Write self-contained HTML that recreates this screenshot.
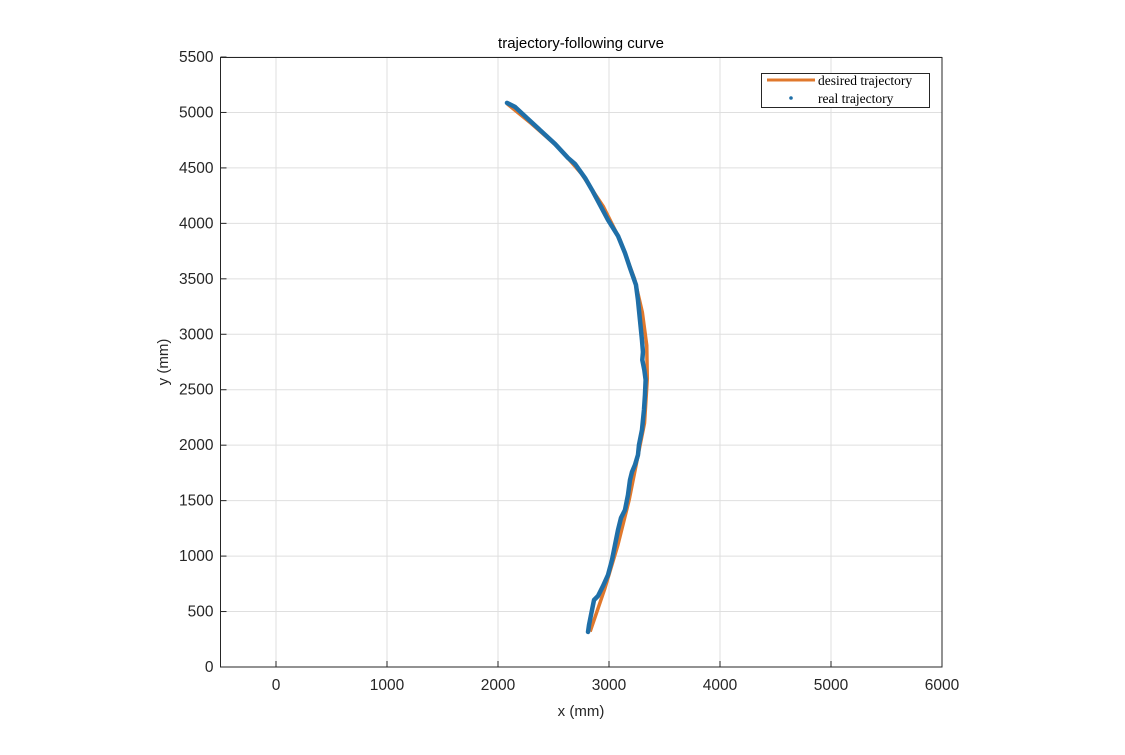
<!DOCTYPE html>
<html><head><meta charset="utf-8"><style>
body{margin:0;background:#fff;}
svg text{font-family:"Liberation Sans",Arial,sans-serif;}
</style></head><body>
<svg id="chart" width="1125" height="750" xmlns="http://www.w3.org/2000/svg">
<rect width="1125" height="750" fill="#fff"/>
<g id="grid"></g>
<g id="series"></g>
<rect x="220.5" y="57.5" width="721.5" height="609.5" fill="none" stroke="#262626" stroke-width="1"/>
<g id="ticks"></g>
<text x="581" y="48" text-anchor="middle" font-size="15" fill="#000">trajectory-following curve</text>
<text x="581" y="716" text-anchor="middle" font-size="15" fill="#262626">x (mm)</text>
<text transform="translate(168,362) rotate(-90)" text-anchor="middle" font-size="15" fill="#262626">y (mm)</text>
<g>
<rect x="761.5" y="73.5" width="168" height="34" fill="#fff" stroke="#262626" stroke-width="1"/>
<line x1="767" y1="80" x2="815" y2="80" stroke="#E0782C" stroke-width="3"/>
<text x="818" y="85" font-size="13.5" style="font-family:'Liberation Serif',serif">desired trajectory</text>
<circle cx="791" cy="98" r="1.8" fill="#1F6FA8"/>
<text x="818" y="103" font-size="13.5" style="font-family:'Liberation Serif',serif">real trajectory</text>
</g>
</svg>
<script>
const xTicks=[0,1000,2000,3000,4000,5000,6000];
const yTicks=[0,500,1000,1500,2000,2500,3000,3500,4000,4500,5000,5500];
const desiredX=[2080,2300,2550,2750,2950,3100,3230,3300,3340,3345,3320,3260,3180,3080,2960,2830];
const desiredY=[5080,4900,4680,4450,4150,3850,3500,3200,2900,2600,2200,1900,1500,1100,700,320];
const realX=[2081,2153,2261,2378,2514,2631,2694,2784,2847,2919,2991,3081,3144,3189,3243,3261,3279,3297,3306,3300,3318,3330,3324,3315,3297,3270,3261,3234,3207,3189,3171,3144,3108,3081,3054,3027,2991,2946,2901,2865,2847,2820,2811];
const realY=[5086,5050,4950,4842,4716,4590,4536,4410,4301,4166,4031,3887,3733,3598,3445,3309,3129,2949,2841,2769,2679,2589,2453,2318,2137,2002,1912,1822,1758,1686,1551,1416,1344,1235,1100,965,830,730,640,604,514,379,316];
const X0=-500,X1=6000,Y0=0,Y1=5500,L=220.5,R=942,T=57,B=667;
const sx=v=>L+(v-X0)/(X1-X0)*(R-L);
const sy=v=>B-(v-Y0)/(Y1-Y0)*(B-T);
const NS="http://www.w3.org/2000/svg";
const grid=document.getElementById('grid'),ticks=document.getElementById('ticks'),ser=document.getElementById('series');
function mk(t,a,p){const e=document.createElementNS(NS,t);for(const k in a)e.setAttribute(k,a[k]);p.appendChild(e);return e;}
xTicks.forEach(v=>{const x=sx(v);
 const g=mk('line',{x1:x,x2:x,y1:T,y2:B,stroke:'#dfdfdf','stroke-width':1},grid);
 
 
 const t=mk('text',{x:x,y:B+23,'text-anchor':'middle','font-size':15.5,fill:'#262626'},ticks);t.textContent=v;
 
 
 mk('line',{x1:x,x2:x,y1:B,y2:B-6,stroke:'#262626'},ticks);});
yTicks.forEach(v=>{const y=sy(v);
 const g=mk('line',{x1:L,x2:R,y1:y,y2:y,stroke:'#dfdfdf','stroke-width':1},grid);
 
 
 const t=mk('text',{x:L-7,y:y+5,'text-anchor':'end','font-size':15.5,fill:'#262626'},ticks);t.textContent=v;
 
 
 mk('line',{x1:L,x2:L+6,y1:y,y2:y,stroke:'#262626'},ticks);});
const dp=mk('polyline',{points:desiredX.map((v,i)=>sx(v)+','+sy(desiredY[i])).join(' '),fill:'none',stroke:'#E0782C','stroke-width':3.5,'stroke-linejoin':'round'},ser);


const rp=mk('polyline',{points:realX.map((v,i)=>sx(v)+','+sy(realY[i])).join(' '),fill:'none',stroke:'#1F6FA8','stroke-width':4.5,'stroke-linejoin':'round','stroke-linecap':'round'},ser);


</script>
</body></html>
